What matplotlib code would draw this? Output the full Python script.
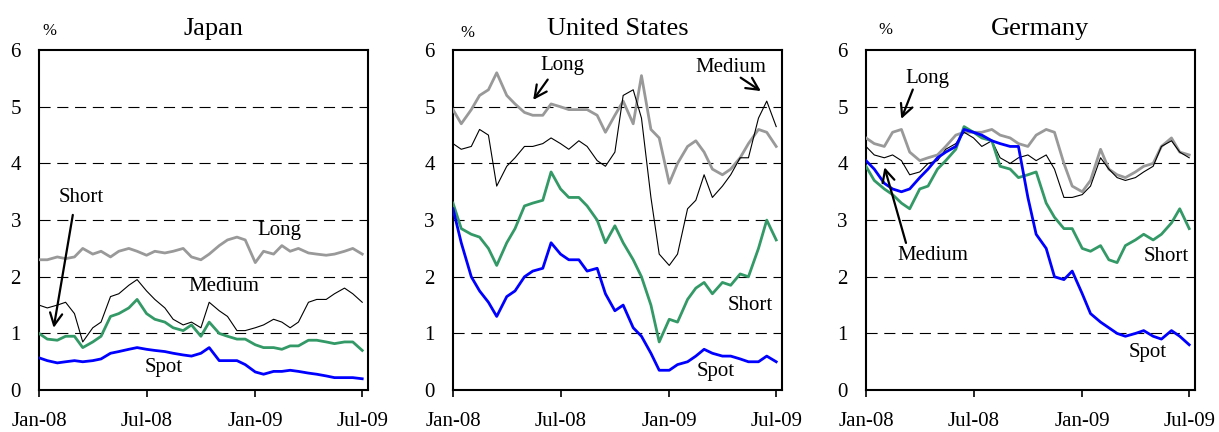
import pandas as pd
import matplotlib
matplotlib.use('Agg')
import matplotlib.pyplot as plt
import matplotlib.dates as mdates

plt.rcParams['font.family'] = ['Liberation Serif', 'DejaVu Serif']

# semi-monthly observations, Jan-08 to Jul-09
dates = pd.date_range('2008-01-01', '2009-07-01', freq='SMS')

# Japan
jp_long = [2.30, 2.30, 2.35, 2.32, 2.35, 2.50, 2.40, 2.45, 2.35, 2.45, 2.50, 2.45, 2.38,
           2.45, 2.42, 2.45, 2.50, 2.35, 2.30, 2.40, 2.55, 2.65, 2.70, 2.65, 2.25, 2.45,
           2.40, 2.55, 2.45, 2.50, 2.42, 2.40, 2.38, 2.40, 2.45, 2.50, 2.40]
jp_medium = [1.50, 1.45, 1.50, 1.55, 1.35, 0.85, 1.10, 1.20, 1.65, 1.70, 1.85, 1.95, 1.75,
             1.60, 1.45, 1.25, 1.15, 1.20, 1.10, 1.55, 1.40, 1.30, 1.05, 1.05, 1.10, 1.15,
             1.25, 1.20, 1.10, 1.20, 1.55, 1.60, 1.60, 1.70, 1.80, 1.70, 1.55]
jp_short = [1.00, 0.90, 0.88, 0.95, 0.95, 0.75, 0.85, 0.95, 1.30, 1.35, 1.45, 1.60, 1.35,
            1.25, 1.20, 1.10, 1.05, 1.15, 0.95, 1.20, 1.00, 0.95, 0.90, 0.90, 0.80, 0.75,
            0.75, 0.72, 0.78, 0.78, 0.88, 0.88, 0.85, 0.82, 0.85, 0.85, 0.70]
jp_spot = [0.57, 0.52, 0.48, 0.50, 0.52, 0.50, 0.52, 0.55, 0.65, 0.68, 0.72, 0.75, 0.72,
           0.70, 0.68, 0.65, 0.62, 0.60, 0.65, 0.75, 0.52, 0.52, 0.52, 0.45, 0.32, 0.28,
           0.33, 0.33, 0.35, 0.33, 0.30, 0.28, 0.25, 0.22, 0.22, 0.22, 0.20]

# United States
us_long = [4.95, 4.70, 4.95, 5.20, 5.30, 5.60, 5.20, 5.05, 4.90, 4.85, 4.85, 5.05, 5.00,
           4.95, 4.95, 4.95, 4.85, 4.55, 4.85, 5.10, 4.70, 5.55, 4.60, 4.45, 3.65, 4.00,
           4.30, 4.40, 4.20, 3.90, 3.80, 3.90, 4.10, 4.35, 4.60, 4.55, 4.30]
us_medium = [4.35, 4.25, 4.30, 4.60, 4.50, 3.60, 3.95, 4.10, 4.30, 4.30, 4.35, 4.45, 4.35,
             4.25, 4.40, 4.30, 4.05, 3.95, 4.20, 5.20, 5.30, 4.80, 3.40, 2.40, 2.20, 2.40,
             3.20, 3.35, 3.80, 3.40, 3.60, 3.80, 4.10, 4.10, 4.80, 5.10, 4.65]
us_short = [3.30, 2.85, 2.75, 2.70, 2.50, 2.20, 2.60, 2.85, 3.25, 3.30, 3.35, 3.85, 3.55,
            3.40, 3.40, 3.25, 3.00, 2.60, 2.90, 2.60, 2.30, 2.00, 1.50, 0.85, 1.25, 1.20,
            1.60, 1.80, 1.90, 1.70, 1.90, 1.85, 2.05, 2.00, 2.50, 3.00, 2.65]
us_spot = [3.20, 2.60, 2.00, 1.75, 1.55, 1.30, 1.65, 1.75, 2.00, 2.10, 2.15, 2.60, 2.40,
           2.30, 2.30, 2.10, 2.15, 1.70, 1.40, 1.50, 1.10, 0.95, 0.65, 0.35, 0.35, 0.45,
           0.50, 0.60, 0.72, 0.65, 0.60, 0.60, 0.55, 0.50, 0.50, 0.60, 0.50]

# Germany
de_long = [4.45, 4.35, 4.30, 4.55, 4.60, 4.20, 4.05, 4.10, 4.15, 4.30, 4.50, 4.55, 4.55,
           4.55, 4.60, 4.50, 4.45, 4.35, 4.30, 4.50, 4.60, 4.55, 4.00, 3.60, 3.50, 3.70,
           4.25, 3.90, 3.80, 3.75, 3.85, 3.95, 4.00, 4.30, 4.45, 4.20, 4.15]
de_medium = [4.30, 4.15, 4.10, 4.15, 4.05, 3.80, 3.85, 4.00, 4.05, 4.25, 4.35, 4.55, 4.45,
             4.30, 4.40, 4.10, 4.00, 4.10, 4.15, 4.05, 4.15, 3.90, 3.40, 3.40, 3.45, 3.60,
             4.10, 3.90, 3.75, 3.70, 3.75, 3.85, 3.95, 4.30, 4.40, 4.20, 4.10]
de_short = [3.95, 3.70, 3.55, 3.45, 3.30, 3.20, 3.55, 3.60, 3.90, 4.05, 4.25, 4.65, 4.55,
            4.45, 4.40, 3.95, 3.90, 3.75, 3.80, 3.85, 3.30, 3.05, 2.85, 2.85, 2.50, 2.45,
            2.55, 2.30, 2.25, 2.55, 2.65, 2.75, 2.65, 2.75, 2.95, 3.20, 2.85]
de_spot = [4.05, 3.90, 3.65, 3.55, 3.50, 3.55, 3.75, 3.90, 4.10, 4.20, 4.30, 4.60, 4.55,
           4.50, 4.40, 4.35, 4.30, 4.30, 3.40, 2.75, 2.50, 2.00, 1.95, 2.10, 1.70, 1.35,
           1.20, 1.10, 1.00, 0.95, 1.00, 1.05, 0.95, 0.90, 1.05, 0.95, 0.80]

titles = ['Japan', 'United States', 'Germany']
ytick_vals = [0, 1, 2, 3, 4, 5, 6]
xtick_dates = ['2008-01-01', '2008-07-01', '2009-01-01', '2009-07-01']

colors = {'Long': '#999999', 'Medium': 'black', 'Short': '#339966', 'Spot': '#0000FF'}
widths = {'Long': 2.0, 'Medium': 0.8, 'Short': 2.0, 'Spot': 2.0}

panels = [
    {'Long': jp_long, 'Medium': jp_medium, 'Short': jp_short, 'Spot': jp_spot},
    {'Long': us_long, 'Medium': us_medium, 'Short': us_short, 'Spot': us_spot},
    {'Long': de_long, 'Medium': de_medium, 'Short': de_short, 'Spot': de_spot},
]

# label text positions and optional arrows (text, text pos, arrow tail, arrow head)
labels = [
    [('Short', ('2008-03-13', 3.40), ('2008-02-28', 3.14), ('2008-01-25', 1.05)),
     ('Long', ('2009-02-10', 2.82), None, None),
     ('Medium', ('2008-11-09', 1.82), None, None),
     ('Spot', ('2008-07-30', 0.39), None, None)],
    [('Long', ('2008-07-04', 5.73), ('2008-06-12', 5.52), ('2008-05-13', 5.08)),
     ('Medium', ('2009-04-16', 5.70), ('2009-04-28', 5.54), ('2009-06-09', 5.25)),
     ('Short', ('2009-05-18', 1.49), None, None),
     ('Spot', ('2009-03-20', 0.32), None, None)],
    [('Long', ('2008-04-14', 5.50), ('2008-03-22', 5.35), ('2008-02-28', 4.74)),
     ('Medium', ('2008-04-23', 2.37), ('2008-03-10', 2.55), ('2008-01-31', 3.98)),
     ('Short', ('2009-05-23', 2.36), None, None),
     ('Spot', ('2009-04-21', 0.66), None, None)],
]

pct_pos = [(0.03, 1.055), (0.045, 1.05), (0.06, 1.06)]
title_x = [0.53, 0.5, 0.53]
lefts = [0.032, 0.3716, 0.7104]

fig = plt.figure(figsize=(12.19, 4.32), dpi=100)

for i in range(3):
    ax = fig.add_axes([lefts[i], 0.097, 0.270, 0.787])
    for name in ['Long', 'Medium', 'Short', 'Spot']:
        ax.plot(dates, panels[i][name], color=colors[name], lw=widths[name], zorder=3)

    ax.set_ylim(0, 6)
    ax.set_xlim(pd.Timestamp('2008-01-01'), pd.Timestamp('2009-07-11'))
    ax.set_yticks(ytick_vals)
    for v in ytick_vals[1:-1]:
        ax.axhline(v, color='black', lw=0.8, dashes=(10, 6), zorder=1)

    ax.set_xticks(pd.to_datetime(xtick_dates))
    ax.xaxis.set_major_formatter(mdates.DateFormatter('%b-%y'))
    ax.tick_params(axis='x', direction='out', length=5, width=1.2, pad=11, labelsize=15)
    ax.tick_params(axis='y', length=0, pad=13, labelsize=15)
    for s in ax.spines.values():
        s.set_linewidth(1.5)

    ax.set_title(titles[i], fontsize=19, pad=11, x=title_x[i])
    ax.text(pct_pos[i][0], pct_pos[i][1], '%', transform=ax.transAxes, fontsize=12,
            ha='center', va='center')

    for text, pos, tail, head in labels[i]:
        ax.text(pd.Timestamp(pos[0]), pos[1], text, fontsize=15, ha='center', va='center',
                zorder=5)
        if tail is not None:
            ax.annotate('', xy=(pd.Timestamp(head[0]), head[1]),
                        xytext=(pd.Timestamp(tail[0]), tail[1]),
                        arrowprops=dict(arrowstyle='->', lw=1.6, color='black',
                                        mutation_scale=22), zorder=5)

fig.savefig('out.png', dpi=100)
